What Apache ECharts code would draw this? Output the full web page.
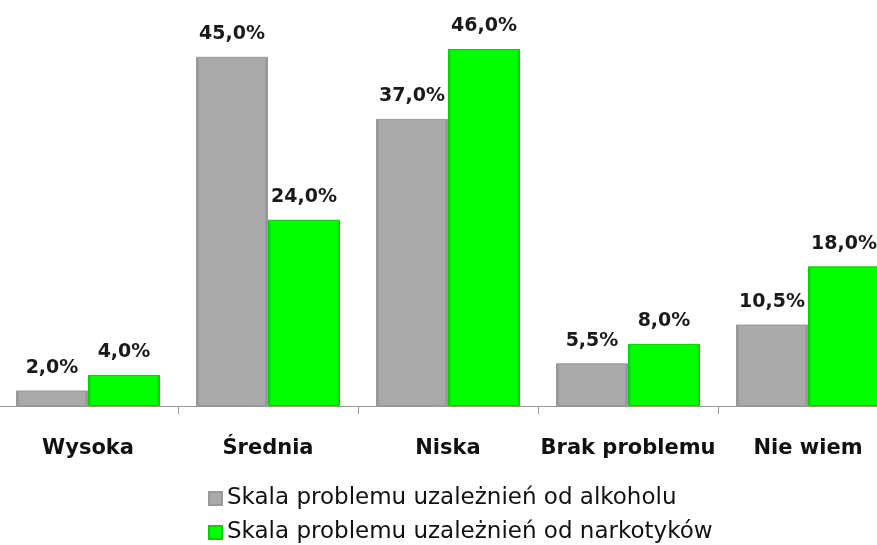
<!DOCTYPE html>
<html>
<head>
<meta charset="utf-8">
<script src="https://cdn.jsdelivr.net/npm/echarts@6/dist/echarts.min.js"></script>
<style>
  html, body { margin: 0; padding: 0; background: #fff; }
  #chart { width: 877px; height: 545px; }
</style>
</head>
<body>
<div id="chart"></div>
<script>
  const categories = ["Wysoka", "Średnia", "Niska", "Brak problemu", "Nie wiem"];
  const alkohol = [2.0, 45.0, 37.0, 5.5, 10.5];
  const narkotyki = [4.0, 24.0, 46.0, 8.0, 18.0];
  const seriesNames = [
    "Skala problemu uzależnień od alkoholu",
    "Skala problemu uzależnień od narkotyków"
  ];

  const fontFamily = "'DejaVu Sans', sans-serif";

  // darker sides, like the bevelled bars of the original
  function bevel(mid, edge) {
    return new echarts.graphic.LinearGradient(0, 0, 1, 0, [
      { offset: 0, color: edge },
      { offset: 0.05, color: mid },
      { offset: 0.95, color: mid },
      { offset: 1, color: edge }
    ]);
  }

  const label = {
    show: true,
    position: "top",
    distance: 13,
    color: "#1a1a1a",
    fontFamily: fontFamily,
    fontWeight: "bold",
    fontSize: 19,
    formatter: p => p.value.toFixed(1).replace(".", ",") + "%"
  };

  const legendText = { fontFamily: fontFamily, fontSize: 23, color: "#111" };

  const chart = echarts.init(document.getElementById("chart"));
  chart.setOption({
    animation: false,
    grid: { left: -2, top: 18, right: -21, height: 388, outerBoundsMode: "none", containLabel: false },
    legend: [
      {
        left: 203, top: 482, itemWidth: 13, itemHeight: 13, itemGap: 10,
        icon: "rect", textStyle: legendText, data: [seriesNames[0]]
      },
      {
        left: 203, top: 516, itemWidth: 13, itemHeight: 13, itemGap: 10,
        icon: "rect", textStyle: legendText, data: [seriesNames[1]]
      }
    ],
    xAxis: {
      type: "category",
      data: categories,
      axisLine: { lineStyle: { color: "#999", width: 1 } },
      axisTick: { show: true, length: 8, lineStyle: { color: "#999" } },
      axisLabel: {
        interval: 0,
        margin: 32,
        color: "#111",
        fontFamily: fontFamily,
        fontSize: 21,
        fontWeight: "bold"
      }
    },
    yAxis: {
      type: "value",
      min: 0,
      max: 50,
      show: false
    },
    series: [
      {
        name: seriesNames[0],
        type: "bar",
        data: alkohol,
        barGap: "0%",
        barCategoryGap: "20%",
        itemStyle: {
          color: bevel("#aaaaaa", "#878787"),
          borderColor: "#999999",
          borderWidth: 1
        },
        label: label
      },
      {
        name: seriesNames[1],
        type: "bar",
        data: narkotyki,
        itemStyle: {
          color: bevel("#00ff00", "#00c800"),
          borderColor: "#00d000",
          borderWidth: 1
        },
        label: label
      }
    ]
  });
</script>
</body>
</html>
